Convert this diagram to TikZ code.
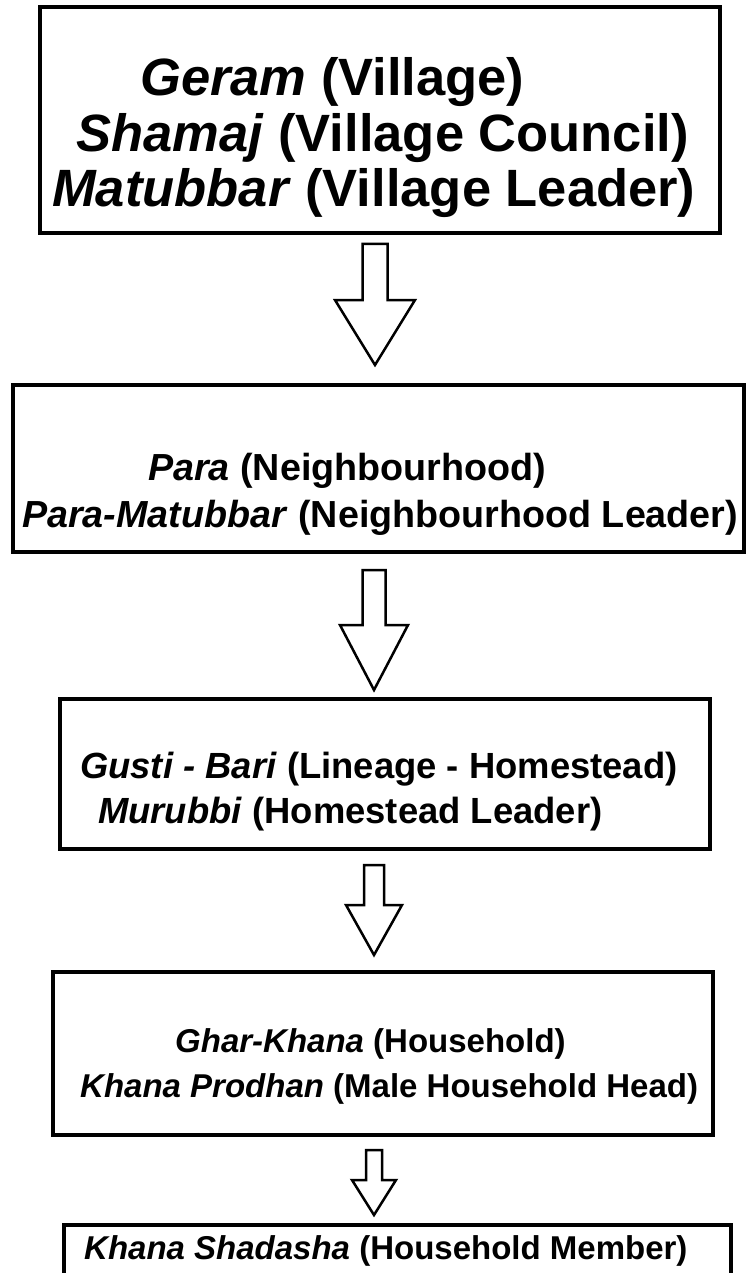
\documentclass[tikz,border=0pt]{standalone}
\usepackage{fontspec}
\setmainfont{Liberation Sans}
\usepackage{tikz}
\usetikzlibrary{calc}

\tikzset{
  level/.style={draw, line width=3.5pt, inner sep=0pt},
  term/.style={anchor=base west, inner sep=0pt},
  bigtext/.style={term, font=\fontsize{52.5}{57}\selectfont\bfseries},
  midtext/.style={term, font=\fontsize{37.7}{44}\selectfont\bfseries},
  smalltext/.style={term, font=\fontsize{33}{40}\selectfont\bfseries},
  arrowline/.style={draw, line width=2.5pt, line join=miter},
}
% hollow block arrow: top point, shaft half width, shaft length, head half width, head length
\newcommand{\hollowarrow}[5]{%
  \draw[arrowline] (#1) ++(-#2,0) -- ++(0,#3) -- ++(#2-#4,0) -- ++(#4,#5)
    -- ++(#4,-#5) -- ++(#2-#4,0) -- ++(0,-#3) -- cycle;}

\begin{document}
\begin{tikzpicture}[x=1pt,y=-1pt]
\useasboundingbox (0,0) rectangle (746,1273);

% boxes
\node[level, minimum width=680pt, minimum height=226pt] (geram) at (380,120) {};
\node[level, minimum width=731pt, minimum height=167pt] (para) at (378.5,468.5) {};
\node[level, minimum width=650pt, minimum height=150pt] (bari) at (385,774) {};
\node[level, minimum width=660pt, minimum height=163pt] (khana) at (383,1053.5) {};
\node[level, minimum width=667pt, minimum height=100pt] (shadasha) at (397.5,1275) {};

% texts
\node[bigtext] (geram1) at (140,96) {\textit{Geram} (Village)};
\node[bigtext] (geram2) at (76,152) {\textit{Shamaj} (Village Council)};
\node[bigtext] (geram3) at (52,207) {\textit{Matubbar} (Village Leader)};

\node[midtext] (para1) at (148,480) {\textit{Para} (Neighbourhood)};
\node[midtext] (para2) at (22,527) {\textit{Para-Matubbar} (Neighbourhood Leader)};

\node[midtext, font=\fontsize{36.4}{42}\selectfont\bfseries] (bari1) at (80,778) {\textit{Gusti - Bari} (Lineage - Homestead)};
\node[midtext, font=\fontsize{36.4}{42}\selectfont\bfseries] (bari2) at (98,823) {\textit{Murubbi} (Homestead Leader)};

\node[smalltext] (khana1) at (175,1052) {\textit{Ghar-Khana} (Household)};
\node[smalltext] (khana2) at (80,1097) {\textit{Khana Prodhan} (Male Household Head)};

\node[smalltext] (shadasha1) at (84,1259) {\textit{Khana Shadasha} (Household Member)};

% arrows
\coordinate (a1) at (375,244);
\coordinate (a2) at (374,570);
\coordinate (a3) at (374,865);
\coordinate (a4) at (374,1150);
\hollowarrow{a1}{12.5}{56}{40}{65}
\hollowarrow{a2}{11.5}{55}{34}{65}
\hollowarrow{a3}{10}{40}{28}{50}
\hollowarrow{a4}{8}{30}{22}{35}
\end{tikzpicture}
\end{document}
